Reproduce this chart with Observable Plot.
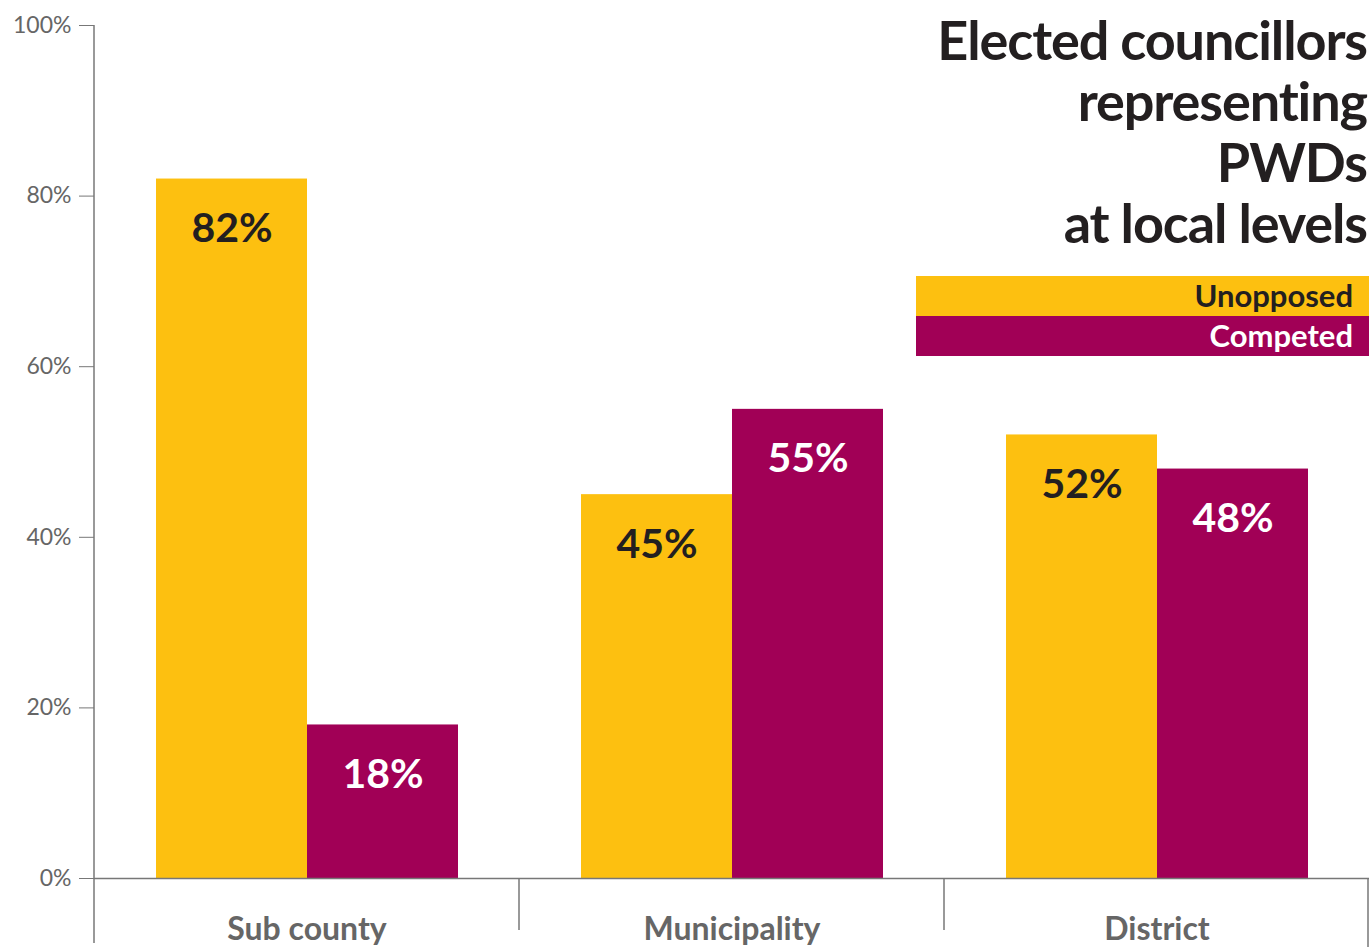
<!DOCTYPE html>
<html>
<head>
<meta charset="utf-8">
<script src="https://cdn.jsdelivr.net/npm/d3@7"></script>
<script src="https://cdn.jsdelivr.net/npm/@observablehq/plot@0.6"></script>
<style>
  html, body { margin: 0; padding: 0; background: #fff; }
  #wrap { position: relative; width: 1369px; height: 947px; overflow: hidden; font-family: Lato, sans-serif; }
  #title { position: absolute; right: 2px; top: 9px; text-align: right; font-weight: 700; font-size: 54px; line-height: 61px; color: #231f20; letter-spacing: -1.1px; }
  .leg { position: absolute; left: 916px; width: 453px; height: 40px; box-sizing: border-box; padding-right: 16px; text-align: right; font-weight: 700; font-size: 31px; line-height: 38px; }
</style>
</head>
<body>
<div id="wrap">
  <div id="chart"></div>
  <div id="title">Elected councillors<br>representing<br>PWDs<br>at local levels</div>
  <div id="legend"></div>
</div>
<script>
const levels = ["Sub county", "Municipality", "District"];
const types = ["Unopposed", "Competed"];
const unopposed = [82, 45, 52];
const competed = [18, 55, 48];
const yTicks = [0, 20, 40, 60, 80, 100];
const colors = ["#FDC010", "#A10056"];
const labelColors = ["#231f20", "#ffffff"];

const data = [];
levels.forEach((lv, i) => {
  data.push({level: lv, type: types[0], value: unopposed[i]});
  data.push({level: lv, type: types[1], value: competed[i]});
});

const chart = Plot.plot({
  width: 1369,
  height: 947,
  marginLeft: 93,
  marginRight: 0,
  marginTop: 25,
  marginBottom: 69,
  style: {fontFamily: "Lato, sans-serif", background: "transparent", overflow: "visible"},
  fx: {domain: levels, padding: 0, label: null},
  x: {domain: types, paddingInner: 0, paddingOuter: 0.4, axis: null},
  y: {domain: [0, 100], label: null},
  color: {domain: types, range: colors},
  marks: [
    Plot.barY(data, {fx: "level", x: "type", y: "value", fill: "type"}),
    Plot.ruleY([0], {stroke: "#777", strokeWidth: 1.5}),
    Plot.text(data, {
      fx: "level", x: "type", y: "value",
      text: d => d.value + "%",
      dy: 50,
      fill: d => labelColors[types.indexOf(d.type)],
      fontSize: 41, fontWeight: 700
    }),
    Plot.axisY({ticks: yTicks, tickFormat: d => d + "%", tickSize: 15, tickPadding: 8, fontSize: 23, color: "#666", stroke: "#777", label: null}),
    Plot.axisFx({anchor: "bottom", tickSize: 0, tickPadding: 39, fontSize: 32, fontWeight: 700, color: "#666", label: null})
  ]
});
document.getElementById("chart").appendChild(chart);

// group separators and axis line, positioned from the plot's own scales
const fxs = chart.scale("fx");
const ys = chart.scale("y");
const svg = d3.select(chart);
const g = svg.append("g").attr("stroke", "#777").attr("stroke-width", 1.5);
const y0 = ys.apply(0);
const left = fxs.apply(levels[0]);
g.append("line").attr("x1", left).attr("x2", left).attr("y1", ys.apply(100)).attr("y2", y0 + 65);
levels.slice(1).forEach(lv => {
  const x = fxs.apply(lv);
  g.append("line").attr("x1", x).attr("x2", x).attr("y1", y0).attr("y2", y0 + 52);
});
const right = fxs.apply(levels[levels.length - 1]) + fxs.bandwidth - 1;
g.append("line").attr("x1", right).attr("x2", right).attr("y1", y0).attr("y2", y0 + 70);

// legend
const legend = document.getElementById("legend");
types.forEach((t, i) => {
  const d = document.createElement("div");
  d.className = "leg";
  d.style.top = (276 + i * 39.5) + "px";
  d.style.background = colors[i];
  d.style.color = labelColors[i];
  d.textContent = t;
  legend.appendChild(d);
});
</script>
</body>
</html>
